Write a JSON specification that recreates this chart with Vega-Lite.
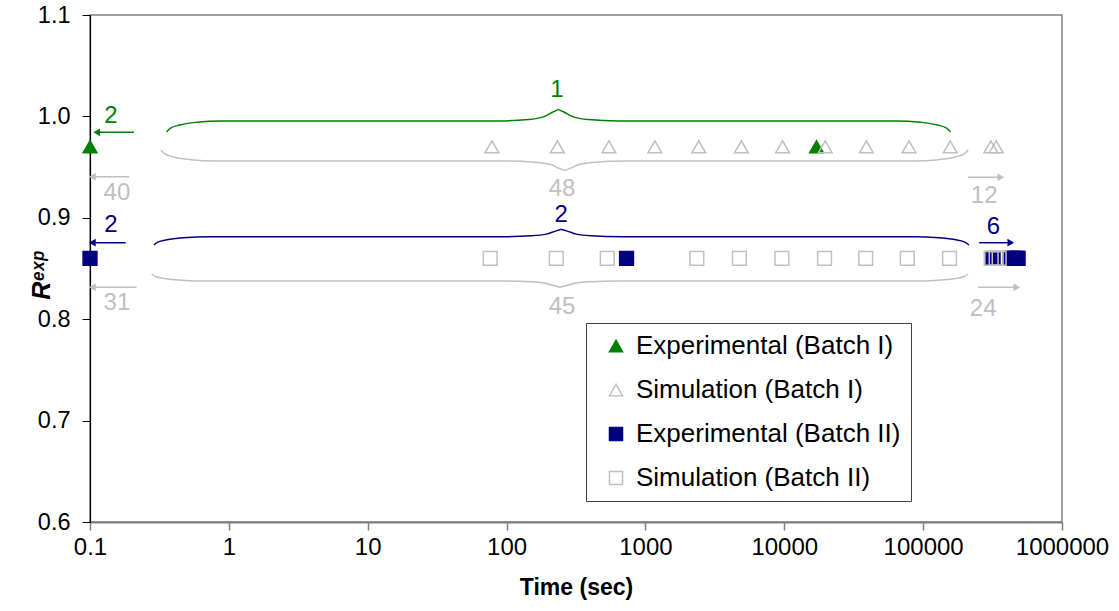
{
  "$schema": "https://vega.github.io/schema/vega-lite/v6.json",
  "width": 972,
  "height": 507,
  "autosize": {"type": "none"},
  "padding": {"left": 90, "top": 15, "right": 57, "bottom": 89},
  "background": "white",
  "config": {
    "font": "Liberation Sans",
    "view": {"stroke": "#808080", "strokeWidth": 1.5},
    "axis": {"grid": false, "labelColor": "black", "titleColor": "black", "labelFont": "Liberation Sans", "titleFont": "Liberation Sans"}
  },
  "datasets": {
    "points": [
      {"series": "Experimental (Batch I)", "t": 0.1, "r": 0.97},
      {"series": "Experimental (Batch I)", "t": 17060, "r": 0.97},
      {"series": "Simulation (Batch I)", "t": 78.4, "r": 0.97},
      {"series": "Simulation (Batch I)", "t": 232, "r": 0.97},
      {"series": "Simulation (Batch I)", "t": 546, "r": 0.97},
      {"series": "Simulation (Batch I)", "t": 1169, "r": 0.97},
      {"series": "Simulation (Batch I)", "t": 2421, "r": 0.97},
      {"series": "Simulation (Batch I)", "t": 4909, "r": 0.97},
      {"series": "Simulation (Batch I)", "t": 9720, "r": 0.97},
      {"series": "Simulation (Batch I)", "t": 19720, "r": 0.97},
      {"series": "Simulation (Batch I)", "t": 39000, "r": 0.97},
      {"series": "Simulation (Batch I)", "t": 79100, "r": 0.97},
      {"series": "Simulation (Batch I)", "t": 156700, "r": 0.97},
      {"series": "Simulation (Batch I)", "t": 307400, "r": 0.97},
      {"series": "Simulation (Batch I)", "t": 335700, "r": 0.97},
      {"series": "Experimental (Batch II)", "t": 0.1, "r": 0.86},
      {"series": "Experimental (Batch II)", "t": 731, "r": 0.86},
      {"series": "Experimental (Batch II)", "t": 319000, "r": 0.86},
      {"series": "Experimental (Batch II)", "t": 423000, "r": 0.86},
      {"series": "Experimental (Batch II)", "t": 444600, "r": 0.86},
      {"series": "Experimental (Batch II)", "t": 459500, "r": 0.86},
      {"series": "Experimental (Batch II)", "t": 475000, "r": 0.86},
      {"series": "Experimental (Batch II)", "t": 483000, "r": 0.86},
      {"series": "Simulation (Batch II)", "t": 76.2, "r": 0.86},
      {"series": "Simulation (Batch II)", "t": 228, "r": 0.86},
      {"series": "Simulation (Batch II)", "t": 531, "r": 0.86},
      {"series": "Simulation (Batch II)", "t": 2344, "r": 0.86},
      {"series": "Simulation (Batch II)", "t": 4750, "r": 0.86},
      {"series": "Simulation (Batch II)", "t": 9610, "r": 0.86},
      {"series": "Simulation (Batch II)", "t": 19490, "r": 0.86},
      {"series": "Simulation (Batch II)", "t": 38570, "r": 0.86},
      {"series": "Simulation (Batch II)", "t": 76900, "r": 0.86},
      {"series": "Simulation (Batch II)", "t": 154900, "r": 0.86},
      {"series": "Simulation (Batch II)", "t": 309000, "r": 0.86},
      {"series": "Simulation (Batch II)", "t": 335700, "r": 0.86},
      {"series": "Simulation (Batch II)", "t": 352700, "r": 0.86}
    ],
    "braces": [
      {"seg": "A1", "grp": "exp1", "t": 0.3557, "r": 0.98462},
      {"seg": "A1", "grp": "exp1", "t": 0.3802, "r": 0.98841},
      {"seg": "A1", "grp": "exp1", "t": 0.4413, "r": 0.99145},
      {"seg": "A1", "grp": "exp1", "t": 0.5846, "r": 0.99416},
      {"seg": "A1", "grp": "exp1", "t": 0.8841, "r": 0.99546},
      {"seg": "A1", "grp": "exp1", "t": 87.42, "r": 0.99546},
      {"seg": "A1", "grp": "exp1", "t": 143.6, "r": 0.99684},
      {"seg": "A1", "grp": "exp1", "t": 184.2, "r": 0.99951},
      {"seg": "A1", "grp": "exp1", "t": 213.7, "r": 1.00412},
      {"seg": "A1", "grp": "exp1", "t": 236.0, "r": 1.0070},
      {"seg": "A2", "grp": "exp1", "t": 236.0, "r": 1.0070},
      {"seg": "A2", "grp": "exp1", "t": 260.6, "r": 1.00412},
      {"seg": "A2", "grp": "exp1", "t": 302.4, "r": 0.99951},
      {"seg": "A2", "grp": "exp1", "t": 387.7, "r": 0.99684},
      {"seg": "A2", "grp": "exp1", "t": 637.0, "r": 0.99546},
      {"seg": "A2", "grp": "exp1", "t": 63410, "r": 0.99546},
      {"seg": "A2", "grp": "exp1", "t": 95880, "r": 0.99416},
      {"seg": "A2", "grp": "exp1", "t": 127000, "r": 0.99145},
      {"seg": "A2", "grp": "exp1", "t": 147400, "r": 0.98841},
      {"seg": "A2", "grp": "exp1", "t": 157500, "r": 0.98462},
      {"seg": "B1", "grp": "sim", "t": 0.3238, "r": 0.96686},
      {"seg": "B1", "grp": "sim", "t": 0.3459, "r": 0.96307},
      {"seg": "B1", "grp": "sim", "t": 0.4015, "r": 0.96003},
      {"seg": "B1", "grp": "sim", "t": 0.5319, "r": 0.95732},
      {"seg": "B1", "grp": "sim", "t": 0.8045, "r": 0.95602},
      {"seg": "B1", "grp": "sim", "t": 97.19, "r": 0.95602},
      {"seg": "B1", "grp": "sim", "t": 159.7, "r": 0.95489},
      {"seg": "B1", "grp": "sim", "t": 204.7, "r": 0.95273},
      {"seg": "B1", "grp": "sim", "t": 237.5, "r": 0.94898},
      {"seg": "B1", "grp": "sim", "t": 262.4, "r": 0.94665},
      {"seg": "B2", "grp": "sim", "t": 262.4, "r": 0.94665},
      {"seg": "B2", "grp": "sim", "t": 289.7, "r": 0.94898},
      {"seg": "B2", "grp": "sim", "t": 336.3, "r": 0.95273},
      {"seg": "B2", "grp": "sim", "t": 431.0, "r": 0.95489},
      {"seg": "B2", "grp": "sim", "t": 708.2, "r": 0.95602},
      {"seg": "B2", "grp": "sim", "t": 84980, "r": 0.95602},
      {"seg": "B2", "grp": "sim", "t": 128500, "r": 0.95732},
      {"seg": "B2", "grp": "sim", "t": 170300, "r": 0.96003},
      {"seg": "B2", "grp": "sim", "t": 197600, "r": 0.96307},
      {"seg": "B2", "grp": "sim", "t": 211200, "r": 0.96686},
      {"seg": "C1", "grp": "exp2", "t": 0.2884, "r": 0.87318},
      {"seg": "C1", "grp": "exp2", "t": 0.3082, "r": 0.87604},
      {"seg": "C1", "grp": "exp2", "t": 0.3575, "r": 0.87833},
      {"seg": "C1", "grp": "exp2", "t": 0.4738, "r": 0.88037},
      {"seg": "C1", "grp": "exp2", "t": 0.7166, "r": 0.88136},
      {"seg": "C1", "grp": "exp2", "t": 91.88, "r": 0.88136},
      {"seg": "C1", "grp": "exp2", "t": 150.9, "r": 0.88224},
      {"seg": "C1", "grp": "exp2", "t": 193.5, "r": 0.88391},
      {"seg": "C1", "grp": "exp2", "t": 224.6, "r": 0.88683},
      {"seg": "C1", "grp": "exp2", "t": 248.0, "r": 0.88866},
      {"seg": "C2", "grp": "exp2", "t": 248.0, "r": 0.88866},
      {"seg": "C2", "grp": "exp2", "t": 273.9, "r": 0.88683},
      {"seg": "C2", "grp": "exp2", "t": 317.8, "r": 0.88391},
      {"seg": "C2", "grp": "exp2", "t": 407.4, "r": 0.88224},
      {"seg": "C2", "grp": "exp2", "t": 669.4, "r": 0.88136},
      {"seg": "C2", "grp": "exp2", "t": 85970, "r": 0.88136},
      {"seg": "C2", "grp": "exp2", "t": 130000, "r": 0.88037},
      {"seg": "C2", "grp": "exp2", "t": 172300, "r": 0.87833},
      {"seg": "C2", "grp": "exp2", "t": 199900, "r": 0.87604},
      {"seg": "C2", "grp": "exp2", "t": 213600, "r": 0.87318},
      {"seg": "D1", "grp": "sim", "t": 0.2775, "r": 0.84458},
      {"seg": "D1", "grp": "sim", "t": 0.2967, "r": 0.84216},
      {"seg": "D1", "grp": "sim", "t": 0.3442, "r": 0.84023},
      {"seg": "D1", "grp": "sim", "t": 0.4560, "r": 0.83850},
      {"seg": "D1", "grp": "sim", "t": 0.6899, "r": 0.83767},
      {"seg": "D1", "grp": "sim", "t": 89.94, "r": 0.83767},
      {"seg": "D1", "grp": "sim", "t": 147.7, "r": 0.83692},
      {"seg": "D1", "grp": "sim", "t": 189.4, "r": 0.83550},
      {"seg": "D1", "grp": "sim", "t": 219.8, "r": 0.83301},
      {"seg": "D1", "grp": "sim", "t": 242.7, "r": 0.83146},
      {"seg": "D2", "grp": "sim", "t": 242.7, "r": 0.83146},
      {"seg": "D2", "grp": "sim", "t": 268.1, "r": 0.83301},
      {"seg": "D2", "grp": "sim", "t": 311.1, "r": 0.83550},
      {"seg": "D2", "grp": "sim", "t": 398.8, "r": 0.83692},
      {"seg": "D2", "grp": "sim", "t": 655.1, "r": 0.83767},
      {"seg": "D2", "grp": "sim", "t": 84980, "r": 0.83767},
      {"seg": "D2", "grp": "sim", "t": 128500, "r": 0.83850},
      {"seg": "D2", "grp": "sim", "t": 170300, "r": 0.84023},
      {"seg": "D2", "grp": "sim", "t": 197600, "r": 0.84216},
      {"seg": "D2", "grp": "sim", "t": 211200, "r": 0.84458}
    ],
    "arrows": [
      {"grp": "exp1", "dir": "left", "t": 0.2071, "th": 0.1117, "r": 0.98432},
      {"grp": "sim", "dir": "left", "t": 0.1916, "th": 0.1039, "r": 0.94053},
      {"grp": "exp2", "dir": "left", "t": 0.1805, "th": 0.1039, "r": 0.87544},
      {"grp": "sim", "dir": "left", "t": 0.2166, "th": 0.1039, "r": 0.83146},
      {"grp": "sim", "dir": "right", "t": 211200, "th": 362700, "r": 0.93994},
      {"grp": "exp2", "dir": "right", "t": 253200, "th": 427900, "r": 0.87544},
      {"grp": "sim", "dir": "right", "t": 249100, "th": 472600, "r": 0.83146}
    ],
    "labels": [
      {"label": "1", "grp": "exp1", "t": 230.9, "r": 1.026},
      {"label": "2", "grp": "exp1", "t": 0.1416, "r": 1.0004},
      {"label": "40", "grp": "sim", "t": 0.1563, "r": 0.9245},
      {"label": "48", "grp": "sim", "t": 250.9, "r": 0.9284},
      {"label": "12", "grp": "sim", "t": 275200, "r": 0.9215},
      {"label": "2", "grp": "exp2", "t": 0.1416, "r": 0.8929},
      {"label": "2", "grp": "exp2", "t": 246.8, "r": 0.9028},
      {"label": "6", "grp": "exp2", "t": 320900, "r": 0.8906},
      {"label": "31", "grp": "sim", "t": 0.1563, "r": 0.816},
      {"label": "45", "grp": "sim", "t": 250.9, "r": 0.812},
      {"label": "24", "grp": "sim", "t": 270700, "r": 0.81}
    ]
  },
  "encoding": {
    "x": {
      "field": "t", "type": "quantitative", "title": "Time (sec)",
      "scale": {"type": "log", "domain": [0.1, 1000000], "nice": false},
      "axis": {
        "values": [0.1, 1, 10, 100, 1000, 10000, 100000, 1000000],
        "format": "~f", "labelFontSize": 24, "titleFontSize": 23, "titleFontWeight": "bold",
        "domainColor": "#808080", "domainWidth": 2, "tickColor": "#808080", "tickWidth": 1.5, "tickSize": 8,
        "labelPadding": 5, "titlePadding": 17, "labelFlush": false, "labelOverlap": false
      }
    },
    "y": {
      "field": "r", "type": "quantitative", "title": "Rᵉˣᵖ",
      "scale": {"domain": [0.6, 1.1], "nice": false, "zero": false},
      "axis": {
        "values": [0.6, 0.7, 0.8, 0.9, 1.0, 1.1],
        "format": ".1f", "labelFontSize": 23.5, "domainColor": "black", "domainWidth": 1.2,
        "tickColor": "black", "tickSize": 8, "labelPadding": 12,
        "titleFontSize": 25, "titleFontWeight": "bold", "titleFontStyle": "italic",
        "titleAngle": -90, "titleAlign": "center", "titleBaseline": "alphabetic",
        "titleX": -41, "titleY": 260
      }
    }
  },
  "layer": [
    {
      "data": {"name": "braces"},
      "mark": {"type": "line", "interpolate": "monotone", "strokeWidth": 1.5},
      "encoding": {
        "color": {"field": "grp", "type": "nominal", "scale": {"domain": ["exp1", "sim", "exp2"], "range": ["#008000", "#c0c0c0", "#000080"]}, "legend": null},
        "detail": {"field": "seg"}
      }
    },
    {
      "data": {"name": "arrows"},
      "mark": {"type": "rule", "strokeWidth": 1.5},
      "encoding": {
        "x2": {"field": "th"},
        "color": {"field": "grp", "type": "nominal", "legend": null}
      }
    },
    {
      "data": {"name": "arrows"},
      "transform": [{"filter": "datum.dir === 'left'"}],
      "mark": {"type": "point", "shape": "triangle-left", "filled": true, "size": 60, "opacity": 1},
      "encoding": {
        "x": {"field": "th", "type": "quantitative", "title": "Time (sec)"},
        "color": {"field": "grp", "type": "nominal", "legend": null}
      }
    },
    {
      "data": {"name": "arrows"},
      "transform": [{"filter": "datum.dir === 'right'"}],
      "mark": {"type": "point", "shape": "triangle-right", "filled": true, "size": 60, "opacity": 1},
      "encoding": {
        "x": {"field": "th", "type": "quantitative", "title": "Time (sec)"},
        "color": {"field": "grp", "type": "nominal", "legend": null}
      }
    },
    {
      "data": {"name": "labels"},
      "mark": {"type": "text", "fontSize": 24, "align": "center", "baseline": "middle", "font": "Liberation Sans"},
      "encoding": {
        "text": {"field": "label"},
        "color": {"field": "grp", "type": "nominal", "legend": null}
      }
    },
    {
      "data": {"name": "points"},
      "mark": {"type": "point", "size": 190, "strokeWidth": 1.5, "opacity": 1},
      "encoding": {
        "shape": {
          "field": "series", "type": "nominal",
          "scale": {"domain": ["Experimental (Batch I)", "Simulation (Batch I)", "Experimental (Batch II)", "Simulation (Batch II)"], "range": ["triangle-up", "triangle-up", "square", "square"]},
          "legend": {"orient": "none", "legendX": 496, "legendY": 308, "title": null, "fillColor": "white", "strokeColor": "#404040", "padding": 10, "labelFontSize": 26, "labelFont": "Liberation Sans", "labelColor": "black", "symbolSize": 170, "symbolStrokeWidth": 1.5, "symbolOffset": 7, "labelOffset": 7, "rowPadding": 18, "labelLimit": 400}
        },
        "stroke": {
          "field": "series", "type": "nominal",
          "scale": {"domain": ["Experimental (Batch I)", "Simulation (Batch I)", "Experimental (Batch II)", "Simulation (Batch II)"], "range": ["#008000", "#c0c0c0", "#000080", "#c0c0c0"]},
          "legend": {"orient": "none", "legendX": 496, "legendY": 308, "title": null, "fillColor": "white", "strokeColor": "#404040", "padding": 10, "labelFontSize": 26, "labelFont": "Liberation Sans", "labelColor": "black", "symbolSize": 170, "symbolStrokeWidth": 1.5, "symbolOffset": 7, "labelOffset": 7, "rowPadding": 18, "labelLimit": 400}
        },
        "fill": {
          "field": "series", "type": "nominal",
          "scale": {"domain": ["Experimental (Batch I)", "Simulation (Batch I)", "Experimental (Batch II)", "Simulation (Batch II)"], "range": ["#008000", "transparent", "#000080", "transparent"]},
          "legend": {"orient": "none", "legendX": 496, "legendY": 308, "title": null, "fillColor": "white", "strokeColor": "#404040", "padding": 10, "labelFontSize": 26, "labelFont": "Liberation Sans", "labelColor": "black", "symbolSize": 170, "symbolStrokeWidth": 1.5, "symbolOffset": 7, "labelOffset": 7, "rowPadding": 18, "labelLimit": 400}
        }
      }
    }
  ]
}
